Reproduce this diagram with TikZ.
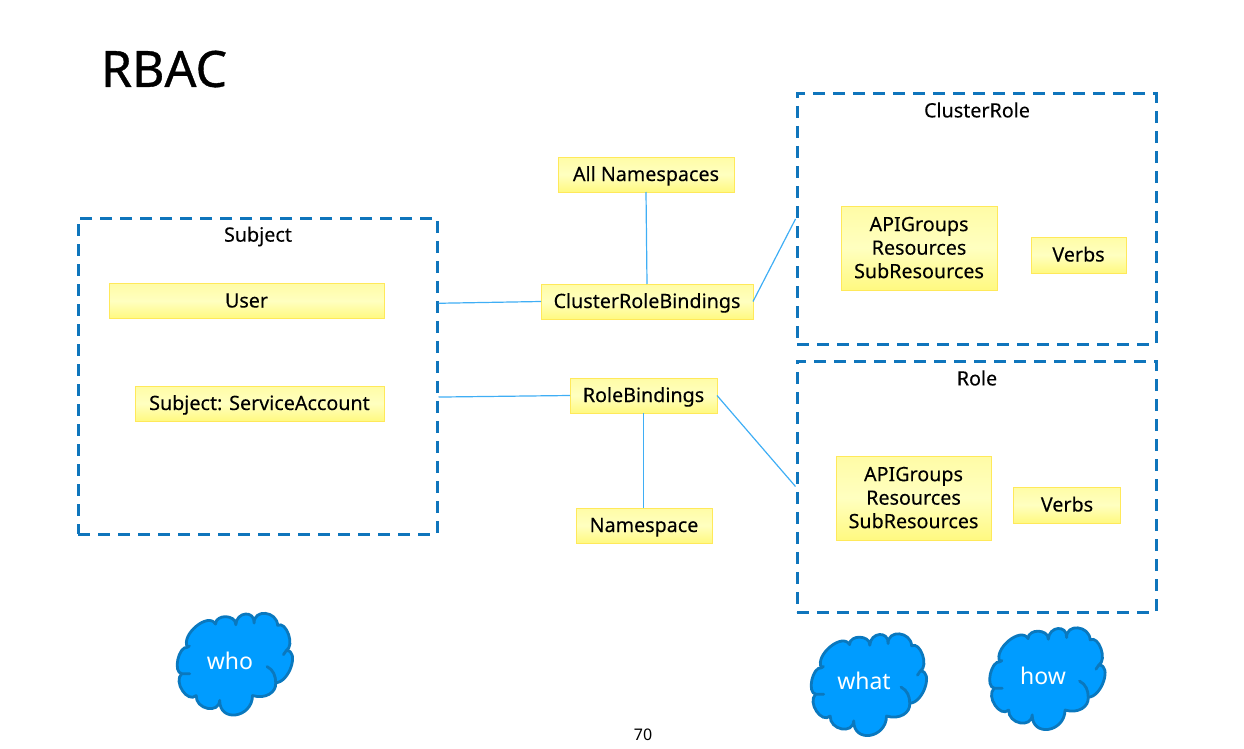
\documentclass[tikz,border=0pt]{standalone}
\usepackage{fontspec}
\setmainfont{Noto Sans}
\newfontfamily\titlefont[FakeBold=0.7]{Noto Sans}
\newfontfamily\boxfont[FakeBold=0.15]{Noto Sans}
\usetikzlibrary{calc}
\definecolor{dashblue}{HTML}{0F75BC}
\definecolor{linkblue}{HTML}{3FAEF5}
\definecolor{cloudfill}{HTML}{009CFF}
\definecolor{cloudline}{HTML}{0A78BE}
\definecolor{yedge}{HTML}{FFE95A}
\definecolor{ytop}{HTML}{FFFCA6}
\definecolor{ymid}{HTML}{FFFFC0}
\definecolor{ybot}{HTML}{FFF980}
\tikzset{
  x=1pt,y=-1pt,
  dashbox/.style={draw=dashblue,line width=3pt,dash pattern=on 12pt off 8pt,anchor=north west,inner sep=0pt},
  yellowbox/.style={draw=yedge,line width=1pt,top color=ytop,bottom color=ybot,middle color=ymid,anchor=center,inner sep=0pt,outer sep=0pt,align=center,text=black,font=\boxfont\fontsize{19.7}{23.5}\selectfont},
  oneline/.style={text height=19pt,text depth=6pt},
  link/.style={draw=linkblue,line width=1.2pt},
  boxtitle/.style={font=\boxfont\fontsize{19.7}{24}\selectfont,inner sep=0pt,anchor=center},
  cloudtext/.style={text=white,font=\fontsize{23}{28}\selectfont,inner sep=0pt,anchor=center},
}
\newcommand{\cloudat}[2]{%
\begin{scope}[shift={(#1,#2)},scale=0.322,shift={(-224,-192)}]
\path[fill=cloudfill] (78,140) .. controls (56,101) and (143,29) .. (165,68)
 .. controls (166,36) and (229,38) .. (228,70)
 .. controls (230,29) and (287,24) .. (285,65)
 .. controls (283,20) and (356,27) .. (358,72)
 .. controls (385,57) and (412,135) .. (385,150)
 .. controls (427,150) and (394,250) .. (352,250)
 .. controls (355,280) and (320,302) .. (280,290)
 .. controls (279,360) and (177,375) .. (178,305)
 .. controls (176,348) and (103,333) .. (105,290)
 .. controls (78,315) and (33,247) .. (60,222)
 .. controls (32,218) and (50,136) .. (78,140) -- cycle;
\draw[cloudline,line width=2.8pt,line cap=round,line join=round]
 (84,136) -- (78,140) .. controls (56,101) and (143,29) .. (165,68)
 .. controls (166,36) and (229,38) .. (228,70)
 .. controls (230,29) and (287,24) .. (285,65)
 .. controls (283,20) and (356,27) .. (358,72)
 .. controls (385,57) and (412,135) .. (385,150) -- (376,163)
 (385,150) .. controls (427,150) and (394,250) .. (352,250)
 (325,200) .. controls (345,210) and (352,230) .. (352,250)
 .. controls (355,280) and (320,302) .. (280,290)
 .. controls (279,360) and (177,375) .. (178,305)
 .. controls (176,348) and (103,333) .. (105,290)
 .. controls (78,315) and (33,247) .. (60,222) -- (85,222)
 (60,222) .. controls (32,218) and (50,136) .. (78,140);
\end{scope}}
\begin{document}
\begin{tikzpicture}
\useasboundingbox (0,0) rectangle (1244,749);
\node[anchor=center,inner sep=0pt,font=\titlefont\fontsize{50}{56}\selectfont] (title) at (164,69) {RBAC};
% dashed containers
\node[dashbox,minimum width=359pt,minimum height=316pt] (subj) at (76.5,216.5) {};
\node[dashbox,minimum width=359pt,minimum height=250pt] (crole) at (795.5,92.5) {};
\node[dashbox,minimum width=359pt,minimum height=251pt] (role) at (795.5,359.5) {};
\node[boxtitle] (subjT) at (258,236.5) {Subject};
\node[boxtitle] (croleT) at (977,110) {ClusterRole};
\node[boxtitle] (roleT) at (977,378) {Role};
% yellow boxes
\node[yellowbox,oneline,minimum width=275pt,minimum height=35pt] (user) at (246.5,301) {User};
\node[yellowbox,oneline,minimum width=249pt,minimum height=35pt] (sa) at (259.5,403.5) {Subject: ServiceAccount};
\node[yellowbox,oneline,minimum width=176pt,minimum height=35pt] (allns) at (646,174.5) {All Namespaces};
\node[yellowbox,oneline,minimum width=212pt,minimum height=35pt] (crb) at (647,301.5) {ClusterRoleBindings};
\node[yellowbox,oneline,minimum width=147pt,minimum height=35pt] (rb) at (643.5,395.5) {RoleBindings};
\node[yellowbox,oneline,minimum width=136pt,minimum height=35pt] (ns) at (644,525.5) {Namespace};
\node[yellowbox,minimum width=156pt,minimum height=84pt,text depth=1pt] (api1) at (919,248) {APIGroups\\Resources\\SubResources};
\node[yellowbox,oneline,minimum width=95pt,minimum height=36pt] (verbs1) at (1078.5,255) {Verbs};
\node[yellowbox,minimum width=155pt,minimum height=84pt,text depth=1pt] (api2) at (913.5,498) {APIGroups\\Resources\\SubResources};
\node[yellowbox,oneline,minimum width=107pt,minimum height=36pt] (verbs2) at (1067,505) {Verbs};
% connectors
\coordinate (subjA) at ($(subj.north east)!0.272!(subj.south east)$);
\coordinate (subjB) at ($(subj.north east)!0.566!(subj.south east)$);
\draw[link] (subjA) -- (crb.west);
\draw[link] (subjB) -- (rb.west);
\draw[link] (allns.south) -- (crb.north);
\draw[link] (crb.east) -- (crole.west);
\draw[link] (rb.east) -- (role.west);
\draw[link] (rb.south) -- (rb.south |- ns.north);
% clouds
\cloudat{234.5}{664}
\cloudat{868.5}{684.5}
\cloudat{1047}{678.5}
\node[cloudtext] (who) at (230,661) {who};
\node[cloudtext] (what) at (864,681) {what};
\node[cloudtext] (how) at (1043,676) {how};
\node[anchor=center,inner sep=0pt,font=\fontsize{16}{18}\selectfont] (page) at (643,735) {70};
\end{tikzpicture}
\end{document}
